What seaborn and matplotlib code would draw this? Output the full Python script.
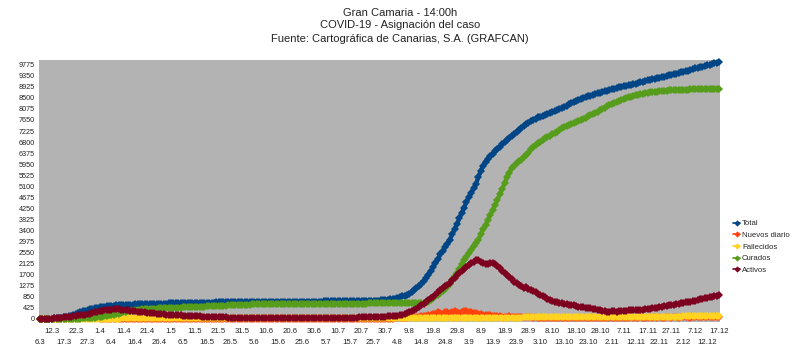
import matplotlib
matplotlib.use("Agg")
import matplotlib.pyplot as plt
import seaborn as sns
import pandas as pd

# ---- data ----
tick_labels = ["6.3", "12.3", "17.3", "22.3", "27.3", "1.4", "6.4", "11.4", "16.4", "21.4",
               "26.4", "1.5", "6.5", "11.5", "16.5", "21.5", "26.5", "31.5", "5.6", "10.6",
               "15.6", "20.6", "25.6", "30.6", "5.7", "10.7", "15.7", "20.7", "25.7", "30.7",
               "4.8", "9.8", "14.8", "19.8", "24.8", "29.8", "3.9", "8.9", "13.9", "18.9",
               "23.9", "28.9", "3.10", "8.10", "13.10", "18.10", "23.10", "28.10", "2.11", "7.11",
               "12.11", "17.11", "22.11", "27.11", "2.12", "7.12", "12.12", "17.12"]
label_step = 5  # one label every 5 data points

total = [3, 5, 7, 9, 12, 16, 22, 30, 40, 55,
         70, 85, 100, 130, 165, 200, 230, 260, 290, 320,
         345, 370, 390, 410, 430, 450, 465, 480, 490, 500,
         510, 515, 520, 525, 530, 535, 540, 545, 550, 555,
         560, 562, 565, 568, 570, 573, 576, 578, 580, 583,
         585, 588, 590, 593, 596, 598, 600, 602, 604, 606,
         608, 610, 612, 614, 616, 618, 620, 622, 624, 626,
         628, 630, 632, 634, 636, 638, 640, 642, 644, 646,
         648, 649, 650, 651, 652, 653, 654, 655, 656, 657,
         657, 658, 658, 659, 659, 660, 660, 661, 661, 662,
         662, 663, 663, 664, 664, 665, 665, 666, 666, 667,
         667, 668, 668, 669, 669, 670, 670, 671, 672, 673,
         674, 675, 676, 677, 678, 679, 680, 681, 682, 683,
         684, 685, 686, 688, 690, 692, 694, 696, 698, 700,
         703, 706, 710, 714, 720, 728, 738, 750, 765, 782,
         800, 840, 870, 900, 930, 960, 1020, 1100, 1180, 1260,
         1350, 1450, 1570, 1700, 1850, 2000, 2150, 2300, 2480, 2620,
         2750, 2900, 3050, 3250, 3450, 3650, 3870, 4080, 4280, 4500,
         4680, 4850, 5030, 5200, 5450, 5700, 5880, 6050, 6150, 6250,
         6350, 6450, 6550, 6630, 6720, 6800, 6880, 6970, 7050, 7130,
         7200, 7280, 7350, 7420, 7490, 7550, 7600, 7650, 7700, 7750,
         7780, 7810, 7840, 7870, 7900, 7940, 7990, 8030, 8070, 8110,
         8160, 8200, 8250, 8290, 8340, 8380, 8420, 8460, 8500, 8530,
         8560, 8590, 8620, 8650, 8680, 8700, 8730, 8750, 8780, 8800,
         8830, 8850, 8880, 8900, 8920, 8940, 8960, 8980, 9000, 9030,
         9050, 9080, 9100, 9120, 9150, 9170, 9200, 9220, 9240, 9260,
         9280, 9300, 9320, 9350, 9370, 9390, 9410, 9430, 9460, 9480,
         9500, 9530, 9550, 9580, 9600, 9630, 9650, 9680, 9700, 9720,
         9750, 9770, 9800, 9830, 9860, 9880]

nuevos = [1, 2, 2, 2, 3, 4, 6, 8, 10, 15,
          15, 15, 30, 35, 35, 30, 30, 30, 30, 35,
          25, 20, 20, 20, 20, 15, 15, 15, 10, 10,
          10, 10, 5, 5, 5, 5, 5, 5, 5, 4,
          4, 4, 3, 3, 3, 3, 2, 2, 2, 2,
          2, 1, 2, 1, 1, 2, 1, 0, 1, 1,
          1, 0, 1, 0, 1, 0, 0, 1, 0, 1,
          0, 1, 0, 0, 1, 0, 2, 0, 1, 0,
          1, 0, 0, 1, 0, 0, 1, 0, 0, 1,
          0, 0, 1, 0, 0, 0, 1, 0, 0, 0,
          1, 0, 0, 0, 1, 0, 0, 1, 0, 0,
          0, 1, 0, 2, 1, 0, 1, 3, 2, 1,
          2, 1, 3, 2, 4, 2, 3, 5, 4, 3,
          5, 4, 6, 5, 7, 6, 8, 6, 9, 8,
          10, 9, 12, 10, 14, 10, 12, 15, 18, 20,
          25, 30, 40, 45, 50, 60, 70, 75, 80, 90,
          100, 110, 130, 140, 150, 200, 180, 260, 230, 200,
          280, 250, 230, 260, 300, 260, 240, 280, 300, 320,
          260, 250, 230, 220, 200, 180, 150, 160, 170, 140,
          130, 120, 110, 100, 90, 90, 80, 100, 90, 70,
          80, 70, 60, 70, 60, 60, 70, 50, 60, 50,
          50, 40, 50, 45, 40, 50, 40, 55, 45, 35,
          50, 40, 45, 35, 40, 45, 35, 50, 40, 30,
          45, 35, 40, 50, 45, 40, 35, 45, 55, 40,
          50, 45, 40, 55, 50, 45, 55, 50, 60, 45,
          50, 55, 60, 50, 45, 55, 60, 50, 65, 55,
          60, 50, 55, 60, 65, 55, 60, 70, 55, 65,
          60, 70, 65, 55, 60, 70, 65, 60, 70, 75,
          65, 70, 60, 75, 70, 65]

fallecidos = [0, 0, 0, 0, 0, 0, 0, 0, 0, 0,
              0, 0, 0, 1, 1, 2, 3, 4, 5, 6,
              7, 8, 9, 10, 11, 12, 13, 14, 15, 16,
              17, 17, 18, 18, 19, 19, 20, 20, 20, 21,
              21, 21, 21, 21, 21, 21, 22, 22, 22, 22,
              22, 22, 22, 22, 22, 22, 22, 22, 22, 22,
              22, 22, 22, 22, 22, 22, 22, 22, 22, 22,
              22, 22, 22, 22, 22, 22, 22, 22, 22, 22,
              22, 22, 22, 22, 22, 22, 22, 22, 22, 22,
              22, 22, 22, 22, 22, 22, 22, 22, 22, 22,
              22, 22, 22, 22, 22, 22, 22, 22, 22, 22,
              22, 22, 22, 22, 22, 22, 22, 22, 22, 22,
              22, 22, 22, 22, 22, 23, 23, 23, 23, 23,
              23, 23, 23, 23, 23, 23, 23, 23, 23, 23,
              23, 23, 23, 23, 23, 24, 24, 24, 24, 24,
              25, 25, 25, 26, 26, 26, 27, 27, 27, 28,
              28, 28, 29, 29, 29, 30, 30, 31, 31, 32,
              32, 33, 33, 34, 35, 35, 36, 37, 38, 39,
              40, 41, 42, 43, 44, 45, 46, 47, 48, 49,
              50, 50, 51, 51, 52, 52, 53, 53, 54, 54,
              55, 56, 57, 58, 59, 60, 61, 62, 63, 64,
              65, 65, 66, 66, 67, 67, 68, 68, 69, 69,
              70, 70, 71, 71, 72, 72, 73, 73, 74, 74,
              75, 75, 76, 76, 77, 77, 78, 78, 79, 79,
              80, 80, 81, 81, 82, 82, 83, 83, 84, 85,
              86, 86, 87, 87, 88, 88, 89, 89, 90, 90,
              91, 91, 92, 92, 93, 93, 94, 94, 95, 95,
              96, 96, 97, 97, 98, 98, 99, 99, 100, 100,
              101, 102, 103, 104, 105, 106]

curados = [0, 0, 0, 0, 0, 0, 0, 0, 0, 0,
           0, 1, 2, 3, 5, 8, 12, 16, 20, 25,
           30, 38, 46, 55, 65, 75, 90, 105, 120, 135,
           150, 170, 190, 210, 230, 250, 270, 290, 310, 325,
           340, 350, 360, 368, 375, 382, 388, 392, 396, 400,
           404, 408, 412, 416, 420, 424, 428, 432, 436, 440,
           444, 448, 452, 456, 460, 464, 468, 472, 476, 480,
           483, 486, 489, 492, 495, 500, 505, 510, 515, 520,
           530, 537, 542, 546, 549, 551, 553, 555, 557, 559,
           560, 561, 562, 563, 564, 565, 566, 567, 568, 569,
           570, 571, 572, 572, 573, 573, 574, 574, 575, 575,
           576, 577, 578, 579, 580, 580, 581, 581, 582, 583,
           584, 585, 586, 587, 588, 589, 589, 590, 590, 591,
           591, 592, 592, 593, 593, 594, 594, 595, 596, 597,
           598, 599, 600, 600, 601, 601, 602, 602, 603, 603,
           604, 604, 605, 605, 606, 607, 608, 610, 612, 614,
           618, 625, 640, 660, 720, 800, 880, 930, 1000, 1080,
           1160, 1230, 1360, 1500, 1640, 1770, 1930, 2100, 2250, 2380,
           2520, 2670, 2800, 2920, 3040, 3250, 3450, 3630, 3810, 4000,
           4200, 4390, 4580, 4790, 5000, 5220, 5450, 5620, 5800, 5900,
           6000, 6060, 6120, 6220, 6300, 6400, 6520, 6620, 6690, 6760,
           6820, 6880, 6940, 7000, 7050, 7100, 7150, 7200, 7280, 7330,
           7380, 7420, 7460, 7500, 7540, 7580, 7620, 7660, 7700, 7740,
           7790, 7830, 7880, 7920, 7970, 8020, 8070, 8120, 8170, 8220,
           8270, 8310, 8350, 8390, 8420, 8460, 8490, 8520, 8550, 8580,
           8600, 8620, 8640, 8660, 8680, 8700, 8710, 8720, 8730, 8740,
           8750, 8760, 8770, 8780, 8785, 8790, 8795, 8800, 8805, 8810,
           8815, 8820, 8822, 8824, 8826, 8828, 8830, 8832, 8834, 8836,
           8838, 8840, 8842, 8844, 8846, 8848]

activos = [3, 5, 7, 9, 12, 16, 22, 30, 40, 50,
           60, 70, 80, 95, 110, 125, 135, 145, 155, 170,
           190, 210, 230, 255, 280, 300, 315, 330, 345, 355,
           360, 365, 368, 365, 360, 350, 340, 330, 315, 300,
           290, 280, 270, 262, 255, 248, 240, 230, 220, 210,
           200, 190, 180, 170, 160, 155, 150, 145, 140, 135,
           130, 125, 120, 115, 110, 105, 100, 97, 95, 92,
           90, 87, 84, 80, 76, 72, 68, 64, 60, 56,
           52, 50, 48, 47, 46, 45, 44, 43, 42, 42,
           41, 41, 40, 40, 40, 40, 40, 40, 40, 40,
           40, 40, 40, 40, 40, 40, 40, 40, 40, 40,
           40, 40, 40, 41, 41, 42, 42, 43, 43, 44,
           44, 45, 45, 46, 46, 47, 48, 49, 50, 51,
           52, 53, 54, 56, 58, 60, 62, 64, 67, 70,
           73, 76, 80, 85, 90, 95, 100, 105, 110, 115,
           120, 140, 165, 190, 220, 250, 300, 346, 400, 460,
           520, 590, 660, 730, 790, 850, 930, 1030, 1116, 1190,
           1260, 1320, 1386, 1480, 1580, 1680, 1770, 1850, 1930, 2000,
           2080, 2156, 2210, 2270, 2250, 2200, 2156, 2130, 2120, 2140,
           2150, 2110, 2050, 1950, 1860, 1770, 1680, 1600, 1520, 1440,
           1386, 1320, 1260, 1193, 1230, 1170, 1116, 1070, 1030, 980,
           924, 880, 830, 780, 731, 700, 670, 640, 616, 600,
           585, 570, 555, 540, 520, 500, 480, 460, 445, 430,
           424, 410, 390, 370, 350, 330, 310, 295, 282, 285,
           290, 295, 282, 290, 300, 320, 325, 330, 330, 335,
           340, 345, 346, 360, 370, 385, 400, 410, 424, 440,
           455, 470, 490, 510, 525, 540, 540, 560, 580, 600,
           620, 640, 655, 666, 690, 710, 730, 750, 770, 790,
           808, 830, 860, 880, 900, 924]

series_names = ["Total", "Nuevos diario", "Fallecidos", "Curados", "Activos"]
series_values = [total, nuevos, fallecidos, curados, activos]
series_colors = ["#004586", "#ff420e", "#ffd320", "#579d1c", "#7e0021"]

y_ticks = list(range(0, 9776, 425))

# ---- figure ----
sns.set_style("white")
plt.rcParams['font.family'] = ['Liberation Sans', 'DejaVu Sans']

fig = plt.figure(figsize=(8, 3.6), dpi=100)
ax = fig.add_axes([0.04875, 0.1056, 0.85125, 0.7277])
ax.set_facecolor("#b3b3b3")

n = len(total)
for name, vals, col in zip(series_names, series_values, series_colors):
    df = pd.DataFrame({"idx": range(len(vals)), "val": vals})
    sns.lineplot(data=df, x="idx", y="val", ax=ax, color=col, marker="D",
                 markersize=4.0, markeredgewidth=0, linewidth=3.0,
                 estimator=None, sort=False, label=name, legend=False,
                 clip_on=False)

ax.set_xlim(-0.4, n - 1 + 0.4)
ax.set_ylim(-115, 9956)
ax.set_xlabel("")
ax.set_ylabel("")
for s in ax.spines.values():
    s.set_visible(False)

ax.set_yticks(y_ticks)
ax.set_yticklabels([str(v) for v in y_ticks])
ax.tick_params(axis="y", length=0, pad=3, labelsize=5.2, labelcolor="#222222")

top_pos = [i * label_step for i in range(len(tick_labels)) if i % 2 == 1]
top_lab = [l for i, l in enumerate(tick_labels) if i % 2 == 1]
bot_pos = [i * label_step for i in range(len(tick_labels)) if i % 2 == 0]
bot_lab = [l for i, l in enumerate(tick_labels) if i % 2 == 0]
ax.set_xticks(top_pos)
ax.set_xticklabels(top_lab)
ax.set_xticks(bot_pos, minor=True)
ax.set_xticklabels(bot_lab, minor=True)
ax.tick_params(axis="x", which="major", length=0, pad=4, labelsize=5.6, labelcolor="#222222")
ax.tick_params(axis="x", which="minor", length=0, pad=12, labelsize=5.6, labelcolor="#222222")

handles, labels = ax.get_legend_handles_labels()
leg = fig.legend(handles, labels, loc="center left", bbox_to_anchor=(0.908, 0.314),
                 frameon=False, fontsize=5.6, handlelength=0.9, handletextpad=0.2,
                 labelspacing=0.55, markerscale=0.8)
for h in leg.get_lines():
    h.set_linewidth(1.2)

fig.text(0.5, 1 - 12.5 / 360, "Gran Camaria - 14:00h", ha="center", va="center",
         fontsize=8, color="#222222")
fig.text(0.5, 1 - 25.5 / 360, "COVID-19 - Asignación del caso", ha="center", va="center",
         fontsize=8, color="#222222")
fig.text(0.5, 1 - 38.5 / 360, "Fuente: Cartográfica de Canarias, S.A. (GRAFCAN)", ha="center",
         va="center", fontsize=8, color="#222222")

fig.savefig("out.png", dpi=100)
